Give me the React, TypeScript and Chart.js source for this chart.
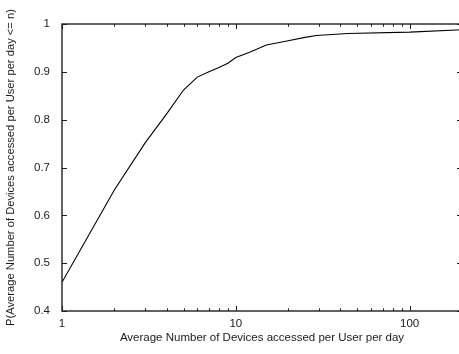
import { useEffect, useRef } from 'react';
import { Chart, registerables } from 'chart.js';

Chart.register(...registerables);

// Cumulative share of users by average number of devices accessed per day
const devicesPerDay = [1, 2, 3, 4, 5, 6, 7, 8, 9, 10, 12, 15, 20, 25, 29, 44, 100, 200];
const cumulativeShare = [0.46, 0.653, 0.751, 0.812, 0.862, 0.889, 0.9, 0.909, 0.918, 0.93, 0.941, 0.956, 0.965, 0.972, 0.976, 0.98, 0.983, 0.988];

const xMajorTicks = [1, 10, 100];
const xMinorTicks = [2, 3, 4, 5, 6, 7, 8, 9, 20, 30, 40, 50, 60, 70, 80, 90, 200];
const yTickValues = [0.4, 0.5, 0.6, 0.7, 0.8, 0.9, 1];

const xTitle = 'Average Number of Devices accessed per User per day';
const yTitle = 'P(Average Number of Devices accessed per User per day <= n)';

const FONT = "'Liberation Sans', Arial, Helvetica, sans-serif";
const INK = '#1a1a1a';

// gnuplot-like frame with inward tick marks on all four sides
const framePlugin = {
  id: 'frameTicks',
  afterDraw(chart: any) {
    const { ctx, chartArea, scales } = chart;
    const { left, right, top, bottom } = chartArea;
    const xs = scales.x;
    const ys = scales.y;
    ctx.save();
    ctx.strokeStyle = INK;
    ctx.lineWidth = 1;
    const major = 5;
    const minor = 2.7;
    ctx.beginPath();
    const xTick = (v: number, len: number) => {
      const px = Math.round(xs.getPixelForValue(v)) + 0.5;
      ctx.moveTo(px, bottom);
      ctx.lineTo(px, bottom - len);
      ctx.moveTo(px, top);
      ctx.lineTo(px, top + len);
    };
    xMajorTicks.forEach((v) => xTick(v, major));
    xMinorTicks.forEach((v) => xTick(v, minor));
    yTickValues.forEach((v) => {
      const py = Math.round(ys.getPixelForValue(v)) + 0.5;
      ctx.moveTo(left, py);
      ctx.lineTo(left + major, py);
      ctx.moveTo(right, py);
      ctx.lineTo(right - major, py);
    });
    ctx.stroke();
    ctx.lineWidth = 1.4;
    ctx.strokeStyle = '#222';
    ctx.strokeRect(left, top, right - left, bottom - top);
    ctx.restore();
  },
};

export default function App() {
  const canvasRef = useRef<HTMLCanvasElement | null>(null);

  useEffect(() => {
    document.body.style.margin = '0';
    const canvas = canvasRef.current;
    if (!canvas) return;
    const chart = new Chart(canvas, {
      type: 'line',
      data: {
        datasets: [
          {
            data: devicesPerDay.map((x, i) => ({ x, y: cumulativeShare[i] })),
            borderColor: '#000',
            borderWidth: 1.1,
            pointRadius: 0,
            tension: 0,
            fill: false,
          },
        ],
      },
      options: {
        animation: false,
        responsive: false,
        devicePixelRatio: 1,
        layout: { padding: { top: 24, right: 0, bottom: 0, left: 0 } },
        plugins: {
          legend: { display: false },
          tooltip: { enabled: false },
        },
        scales: {
          x: {
            type: 'logarithmic',
            min: 1,
            max: 200,
            grid: { display: false, drawTicks: false },
            border: { display: false },
            afterBuildTicks: (scale: any) => {
              scale.ticks = xMajorTicks.map((value) => ({ value, major: true }));
            },
            afterFit: (scale: any) => {
              scale.height = 43;
            },
            ticks: {
              autoSkip: false,
              maxRotation: 0,
              padding: 6,
              color: INK,
              font: { family: FONT, size: 11.5 },
              callback: (v: any) => String(v),
            },
            title: {
              display: true,
              text: xTitle,
              color: INK,
              font: { family: FONT, size: 11.5 },
              padding: { top: 0, bottom: 9 },
            },
          },
          y: {
            min: 0.4,
            max: 1,
            grid: { display: false, drawTicks: false },
            border: { display: false },
            afterBuildTicks: (scale: any) => {
              scale.ticks = yTickValues.map((value) => ({ value }));
            },
            afterFit: (scale: any) => {
              scale.width = 62;
            },
            ticks: {
              padding: 12,
              color: INK,
              font: { family: FONT, size: 11.5 },
              callback: (v: any) => String(Number(Number(v).toFixed(1))),
            },
            title: {
              display: true,
              text: yTitle,
              color: INK,
              font: { family: FONT, size: 11.2 },
              padding: { top: 4, bottom: 0 },
            },
          },
        },
      },
      plugins: [framePlugin],
    });
    return () => chart.destroy();
  }, []);

  return (
    <div style={{ width: 459, height: 354, overflow: 'hidden', position: 'relative', background: '#fff' }}>
      <canvas ref={canvasRef} width={462} height={354} style={{ display: 'block' }} />
    </div>
  );
}
